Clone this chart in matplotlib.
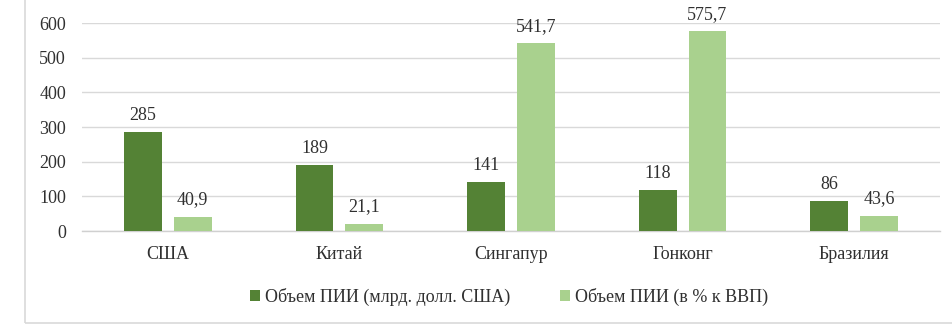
import matplotlib
matplotlib.use("Agg")
import matplotlib.pyplot as plt
import numpy as np
from matplotlib.patches import Rectangle

categories = ["США", "Китай", "Сингапур", "Гонконг", "Бразилия"]
fdi_bn = [285, 189, 141, 118, 86]
fdi_gdp = [40.9, 21.1, 541.7, 575.7, 43.6]
fdi_bn_labels = ["285", "189", "141", "118", "86"]
fdi_gdp_labels = ["40,9", "21,1", "541,7", "575,7", "43,6"]
series_names = ["Объем ПИИ (млрд. долл. США)", "Объем ПИИ (в % к ВВП)"]
yticks = [0, 100, 200, 300, 400, 500, 600]

plt.rcParams['font.family'] = ['Liberation Serif', 'DejaVu Serif']
W, H = 953, 331
fig = plt.figure(figsize=(W/100, H/100), dpi=100)
ax = fig.add_axes([82/W, 1-231/H, (940-82)/W, (231-23)/H])

FS = 13
TC = "#303030"
x = np.arange(len(categories))
w = 0.22
off = 0.145
dark = "#548235"
light = "#A9D18E"
b1 = ax.bar(x - off, fdi_bn, w, color=dark, label=series_names[0], zorder=3)
b2 = ax.bar(x + off, fdi_gdp, w, color=light, label=series_names[1], zorder=3)

for rect, lab in zip(b1, fdi_bn_labels):
    ax.annotate(lab, (rect.get_x()+rect.get_width()/2, rect.get_height()),
                xytext=(0, 6), textcoords="offset points", ha="center", va="bottom",
                fontsize=FS, color=TC)
for rect, lab in zip(b2, fdi_gdp_labels):
    ax.annotate(lab, (rect.get_x()+rect.get_width()/2, rect.get_height()),
                xytext=(0, 6), textcoords="offset points", ha="center", va="bottom",
                fontsize=FS, color=TC)

ax.set_xlim(-0.5, len(categories)-0.5)
ax.set_ylim(0, 600)
ax.set_yticks(yticks)
ax.set_yticklabels([str(t) for t in yticks])
ax.set_xticks(x)
ax.set_xticklabels(categories)
ax.tick_params(axis='y', length=0, pad=11.5, labelsize=FS, labelcolor=TC)
ax.tick_params(axis='x', length=0, pad=11, labelsize=FS, labelcolor=TC)
ax.grid(axis='y', color="#D9D9D9", linewidth=1, zorder=0)
for s in ["top", "right", "left"]:
    ax.spines[s].set_visible(False)
ax.spines["bottom"].set_color("#D0D0D0")
ax.spines["bottom"].set_linewidth(1)
ax.set_facecolor("none")

leg = fig.legend(loc="center", bbox_to_anchor=(509/W, 1-297/H), ncol=2, frameon=False,
                 fontsize=FS, handlelength=0.55, handleheight=0.55, handletextpad=0.25,
                 columnspacing=2.8)
for t in leg.get_texts():
    t.set_color(TC)

fig.patches.append(Rectangle((25/W, 1-323/H), 1.2, 1.2, transform=fig.transFigure,
                             fill=False, edgecolor="#D9D9D9", linewidth=1.2, zorder=0))

fig.savefig("out.png", dpi=100)
